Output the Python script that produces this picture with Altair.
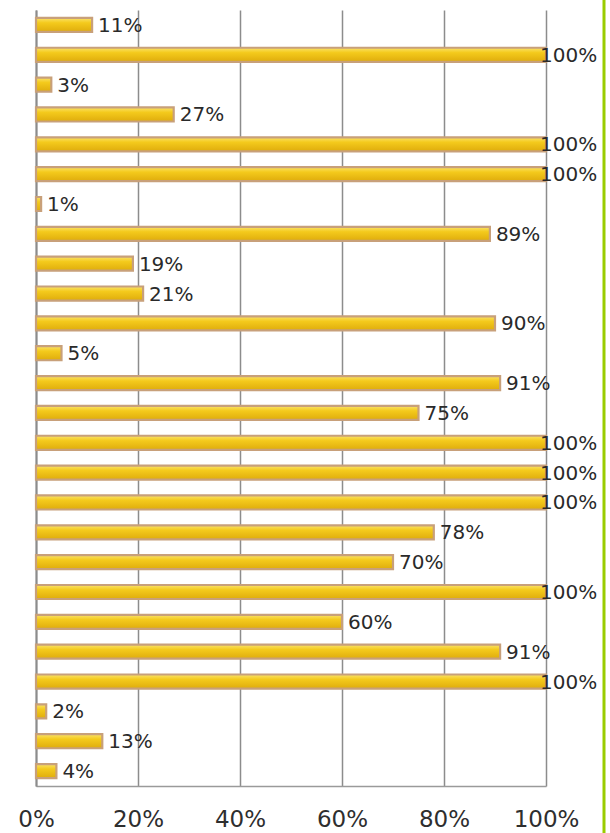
import altair as alt
import pandas as pd

values = [11, 100, 3, 27, 100, 100, 1, 89, 19, 21, 90, 5, 91, 75, 100, 100, 100,
          78, 70, 100, 60, 91, 100, 2, 13, 4]
rows = [f"r{i + 1:02d}" for i in range(len(values))]
labels = [f"{v}%" for v in values]
ticks = [0, 20, 40, 60, 80, 100]

df = pd.DataFrame({"row": rows, "value": [v / 100 for v in values], "label": labels})

x = alt.X(
    "value:Q",
    scale=alt.Scale(domain=[0, 1], nice=False, zero=True),
    axis=alt.Axis(
        format=".0%", values=[t / 100 for t in ticks], grid=True,
        gridColor="#8c8c8c", gridWidth=1.5, domainColor="#9a9a9a", domainWidth=1.5,
        ticks=False, labelFontSize=23, labelFont="DejaVu Sans", labelColor="#2e2e2e",
        labelPadding=22, title=None, labelFlush=False,
    ),
)
y = alt.Y(
    "row:N", sort=rows,
    scale=alt.Scale(paddingInner=0.53, paddingOuter=0.265),
    axis=alt.Axis(labels=False, ticks=False, title=None, domainColor="#8c8c8c", domainWidth=2),
)

base = alt.Chart(df)

bars = base.mark_bar(
    stroke="#c8a07a", strokeWidth=2.2,
    fill=alt.Gradient(
        gradient="linear", x1=0, x2=0, y1=0, y2=1,
        stops=[
            alt.GradientStop(offset=0, color="#fae36a"),
            alt.GradientStop(offset=0.35, color="#f4ca1c"),
            alt.GradientStop(offset=1, color="#dfac0c"),
        ],
    ),
).encode(x=x, y=y)

txt_style = dict(align="left", baseline="middle", fontSize=20, font="DejaVu Sans", color="#2a2a2a")
labels_small = base.transform_filter("datum.value < 1").mark_text(dx=6, dy=1, **txt_style).encode(
    x="value:Q", y=alt.Y("row:N", sort=rows), text="label:N")
labels_full = base.transform_filter("datum.value >= 1").mark_text(dx=-6, dy=1, **txt_style).encode(
    x="value:Q", y=alt.Y("row:N", sort=rows), text="label:N")

green = alt.Chart(pd.DataFrame({"a": [0]})).mark_rule(color="#99cc00", strokeWidth=3).encode(
    x=alt.value(568), y=alt.value(-10), y2=alt.value(823))

chart = alt.layer(bars, labels_small, labels_full, green).properties(
    width=510, height=776,
    padding={"left": 36, "top": 10, "right": 64, "bottom": 47},
    autosize=alt.AutoSizeParams(type="none"),
    background="white",
).configure_view(stroke=None)

chart.save("out.html", embed_options={"renderer": "svg", "actions": False})
